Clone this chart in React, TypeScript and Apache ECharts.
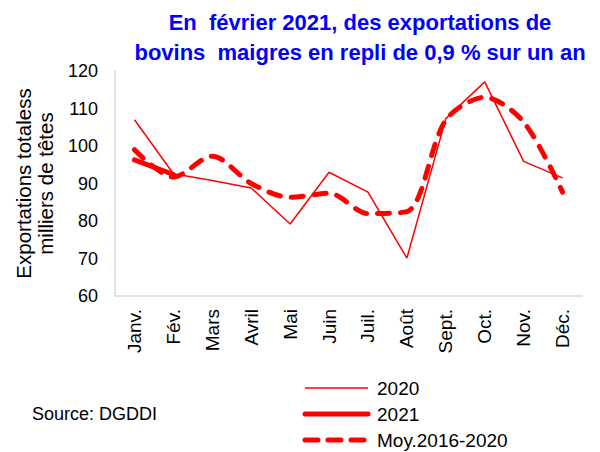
import React, { useEffect, useRef } from "react";
import * as echarts from "echarts";

const months = ["Janv.", "Fév.", "Mars", "Avril", "Mai", "Juin", "Juil.", "Août", "Sept.", "Oct.", "Nov.", "Déc."];
const s2020 = [107, 92.6, 90.8, 88.8, 79.2, 93, 87.7, 70.1, 107.3, 117.1, 95.9, 91.5];
const s2021 = [96.3, 92.4];
const sMoy = [99, 91.7, 97.3, 90, 86.3, 87.4, 82, 82.5, 106.9, 113, 106.4, 87.7];
const titleLines = ["En  février 2021, des exportations de", "bovins  maigres en repli de 0,9 % sur un an"];
const yName = "Exportations totaless\nmilliers de têtes";
const sourceText = "Source: DGDDI";
const legendNames = ["2020", "2021", "Moy.2016-2020"];

const FONT = "'Liberation Sans', Arial, sans-serif";
const RED = "#ff0000";

export default function App() {
  const ref = useRef<HTMLDivElement>(null);
  useEffect(() => {
    const chart = echarts.init(ref.current!, null, { renderer: "svg" });
    const legendStyles = [
      { lineWidth: 1.5, lineCap: "butt" as const, lineDash: null as any },
      { lineWidth: 5, lineCap: "round" as const, lineDash: null as any },
      { lineWidth: 5, lineCap: "round" as const, lineDash: [13, 10] },
    ];
    const legendGraphics: any[] = [];
    legendNames.forEach((name, i) => {
      const y = 388 + i * 26;
      legendGraphics.push({
        type: "line",
        shape: { x1: 305, y1: y, x2: 368, y2: y },
        style: { stroke: RED, lineWidth: legendStyles[i].lineWidth, lineCap: legendStyles[i].lineCap, lineDash: legendStyles[i].lineDash },
      });
      legendGraphics.push({
        type: "text",
        x: 377,
        y,
        style: { text: name, fill: "#000", font: `19px ${FONT}`, textVerticalAlign: "middle", verticalAlign: "middle" },
      });
    });
    chart.setOption({
      animation: false,
      backgroundColor: "#ffffff",
      textStyle: { fontFamily: FONT },
      title: {
        text: titleLines.join("\n"),
        left: 355,
        textAlign: "center",
        top: 2,
        textStyle: { color: "#0000ff", fontSize: 22, fontWeight: "bold", fontFamily: FONT, lineHeight: 30 },
      },
      grid: { left: 115, right: 18, top: 71, bottom: 156 },
      xAxis: {
        type: "category",
        data: months,
        boundaryGap: true,
        axisLine: { lineStyle: { color: "#d9d9d9", width: 1.5 } },
        axisTick: { show: false },
        axisLabel: { rotate: 90, color: "#000", fontSize: 19, fontFamily: FONT, margin: 13, interval: 0 },
      },
      yAxis: {
        type: "value",
        min: 60,
        max: 120,
        interval: 10,
        name: yName,
        nameLocation: "middle",
        nameRotate: 90,
        nameGap: 59,
        nameTextStyle: { color: "#000", fontSize: 20.5, fontFamily: FONT, lineHeight: 22 },
        axisLine: { show: true, lineStyle: { color: "#d9d9d9", width: 1.5 } },
        axisTick: { show: false },
        splitLine: { show: false },
        axisLabel: { color: "#000", fontSize: 18, fontFamily: FONT, margin: 17 },
      },
      graphic: [
        {
          type: "text",
          x: 32,
          y: 414,
          style: { text: sourceText, fill: "#000", font: `18px ${FONT}`, textVerticalAlign: "middle", verticalAlign: "middle" },
        },
        ...legendGraphics,
      ],
      series: [
        {
          name: "2020",
          type: "line",
          data: s2020,
          symbol: "none",
          lineStyle: { color: RED, width: 1.5 },
          itemStyle: { color: RED },
        },
        {
          name: "2021",
          type: "line",
          data: s2021,
          symbol: "none",
          lineStyle: { color: RED, width: 5, cap: "round" },
          itemStyle: { color: RED },
        },
        {
          name: "Moy.2016-2020",
          type: "line",
          data: sMoy,
          symbol: "none",
          smooth: 0.3,
          lineStyle: { color: RED, width: 5, type: [12, 11], cap: "round" },
          itemStyle: { color: RED },
        },
      ],
    });
    return () => chart.dispose();
  }, []);
  return <div ref={ref} style={{ width: 600, height: 452, position: "absolute", left: 0, top: 0 }} />;
}
